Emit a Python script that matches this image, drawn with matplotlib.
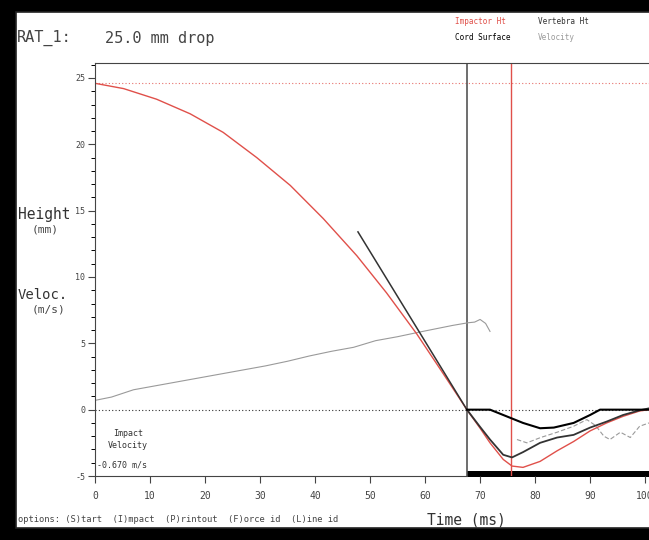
import matplotlib.pyplot as plt
from matplotlib.patches import Rectangle
from matplotlib.ticker import MultipleLocator

# impactor height (mm) vs time (ms)
impact_t = [0, 5.2, 11.2, 17.3, 23.3, 29.4, 35.5, 41.5, 47.6, 53, 58.5, 63, 67.6,
            70, 71.8, 74.2, 75.8, 77.8, 80.9, 84, 87, 90, 93, 96, 99, 100.7]
impact_h = [24.6, 24.2, 23.4, 22.3, 20.9, 19.0, 16.9, 14.4, 11.6, 8.8, 5.7, 2.9, 0.0,
            -1.4, -2.5, -3.75, -4.25, -4.35, -3.9, -3.1, -2.4, -1.6, -1.0, -0.5, -0.1, 0.0]

# impact velocity tangent
tangent_t = [47.8, 67.6]
tangent_h = [13.4, 0.0]

# vertebra height after impact
vert_t = [67.6, 70, 71.8, 74.2, 75.8, 77.8, 80.9, 84, 87, 90, 93, 96, 99, 100.7]
vert_h = [0.0, -1.3, -2.25, -3.4, -3.6, -3.2, -2.5, -2.1, -1.9, -1.35, -0.9, -0.4, -0.05, 0.1]

# cord surface
cord_t = [67.6, 71.8, 74.8, 77.8, 80.9, 83.4, 87, 90, 91.8, 100.7]
cord_h = [0.0, 0.0, -0.5, -1.0, -1.4, -1.35, -1.0, -0.4, 0.0, 0.0]

# velocity
vel_t = [0, 3, 7, 11, 15, 19, 23, 27, 31, 35, 39, 43, 47, 51, 55, 59, 62, 65,
         67.8, 69, 70, 71, 71.8]
vel_v = [0.7, 0.95, 1.5, 1.8, 2.1, 2.4, 2.7, 3.0, 3.3, 3.65, 4.05, 4.4, 4.7, 5.2,
         5.5, 5.85, 6.1, 6.35, 6.55, 6.6, 6.8, 6.5, 5.9]
vel2_t = [76.7, 78.5, 81, 84, 87, 89.4, 91, 92.5, 93.6, 95.5, 97.3, 99, 100.7]
vel2_v = [-2.25, -2.5, -2.1, -1.7, -1.25, -0.75, -1.2, -2.0, -2.25, -1.7, -2.1, -1.25, -1.0]

t_impact = 67.6
t_peak = 75.6
h_start = 24.6

red = '#e0504a'
dark = '#333333'
grey = '#9a9a9a'
mono = 'DejaVu Sans Mono'

fig = plt.figure(figsize=(6.49, 5.40), dpi=100, facecolor='black')
# white screen area inside the black bezel
fig.patches.append(Rectangle((16 / 649, 12 / 540), 1.0, 516 / 540,
                             transform=fig.transFigure, facecolor='white',
                             edgecolor='#222222', linewidth=1.2, zorder=-5))

ax = fig.add_axes([95 / 649, 1 - 476 / 540, (649 - 95) / 649, (476 - 63) / 540])
ax.set_zorder(2)
ax.set_facecolor('white')
ax.set_xlim(0, 100.7)
ax.set_ylim(-5, 26.13)

ax.axhline(h_start, color=red, linestyle=(0, (1, 2)), linewidth=0.8, alpha=0.8)
ax.axhline(0, color=dark, linestyle=(0, (1, 2)), linewidth=0.8)
ax.axvline(t_impact, color='#555555', linewidth=1.2)
ax.axvline(t_peak, color=red, linewidth=1.0)
ax.fill_between([t_impact, 100.7], -5.05, -4.6, color='black', linewidth=0, clip_on=False)

ax.plot(vel_t, vel_v, color=grey, linewidth=0.8)
ax.plot(vel2_t, vel2_v, color=grey, linewidth=0.8, linestyle=(0, (4, 2)))
ax.plot(impact_t, impact_h, color=red, linewidth=1.0)
ax.plot(tangent_t, tangent_h, color=dark, linewidth=1.1)
ax.plot(vert_t, vert_h, color=dark, linewidth=1.3)
ax.plot(cord_t, cord_h, color='black', linewidth=1.5)

ax.spines['right'].set_visible(False)
ax.spines['top'].set_color('#444444')
ax.spines['left'].set_color('#444444')
ax.spines['bottom'].set_color('#444444')
ax.spines['bottom'].set_bounds(0, t_impact)

ax.xaxis.set_major_locator(MultipleLocator(10))
ax.yaxis.set_major_locator(MultipleLocator(5))
ax.yaxis.set_minor_locator(MultipleLocator(1))
ax.tick_params(axis='both', direction='out', color='#444444', labelcolor='#444444',
               labelsize=7, width=0.8)
ax.tick_params(axis='x', length=5, pad=6)
ax.tick_params(axis='y', which='major', length=5, pad=2)
ax.tick_params(axis='y', which='minor', length=3, width=0.7)
ax.set_xticks(range(0, 101, 10))
ax.set_xticklabels([str(v) for v in range(0, 101, 10)], family=mono)
ax.set_yticks([-5, 0, 5, 10, 15, 20, 25])
ax.set_yticklabels(['-5', '0', '5', '10', '15', '20', '25'], family=mono, fontsize=6)

# header and labels
fig.text(17 / 649, 1 - 38 / 540, 'RAT_1:', family=mono, fontsize=11, color='#444444', va='center')
fig.text(105 / 649, 1 - 38 / 540, '25.0 mm drop', family=mono, fontsize=11, color='#444444', va='center')
fig.text(455 / 649, 1 - 22 / 540, 'Impactor Ht', family=mono, fontsize=5.5, color=red, va='center')
fig.text(538 / 649, 1 - 22 / 540, 'Vertebra Ht', family=mono, fontsize=5.5, color='#333333', va='center')
fig.text(455 / 649, 1 - 37 / 540, 'Cord Surface', family=mono, fontsize=5.5, color='black', va='center')
fig.text(538 / 649, 1 - 37 / 540, 'Velocity', family=mono, fontsize=5.5, color=grey, va='center')

fig.text(18 / 649, 1 - 215 / 540, 'Height', family=mono, fontsize=10.5, color='#333333', va='center')
fig.text(45 / 649, 1 - 229 / 540, '(mm)', family=mono, fontsize=8, color='#444444', va='center', ha='center')
fig.text(18 / 649, 1 - 295 / 540, 'Veloc.', family=mono, fontsize=10, color='#333333', va='center')
fig.text(48 / 649, 1 - 310 / 540, '(m/s)', family=mono, fontsize=8, color='#444444', va='center', ha='center')

ax.text(128 / 649, 1 - 434 / 540, 'Impact', transform=fig.transFigure, family=mono,
        fontsize=6, color='#333333', ha='center', va='center')
ax.text(128 / 649, 1 - 445 / 540, 'Velocity', transform=fig.transFigure, family=mono,
        fontsize=6, color='#333333', ha='center', va='center')
ax.text(97 / 649, 1 - 465 / 540, '-0.670 m/s', transform=fig.transFigure, family=mono,
        fontsize=6, color='#333333', va='center')

fig.text(18 / 649, 1 - 519 / 540,
         'options: (S)tart  (I)mpact  (P)rintout  (F)orce id  (L)ine id',
         family=mono, fontsize=6.3, color='#444444', va='center')
fig.text(466 / 649, 1 - 520 / 540, 'Time (ms)', family=mono, fontsize=10.5,
         color='#333333', va='center', ha='center')

fig.savefig('out.png', dpi=100, facecolor='black')
